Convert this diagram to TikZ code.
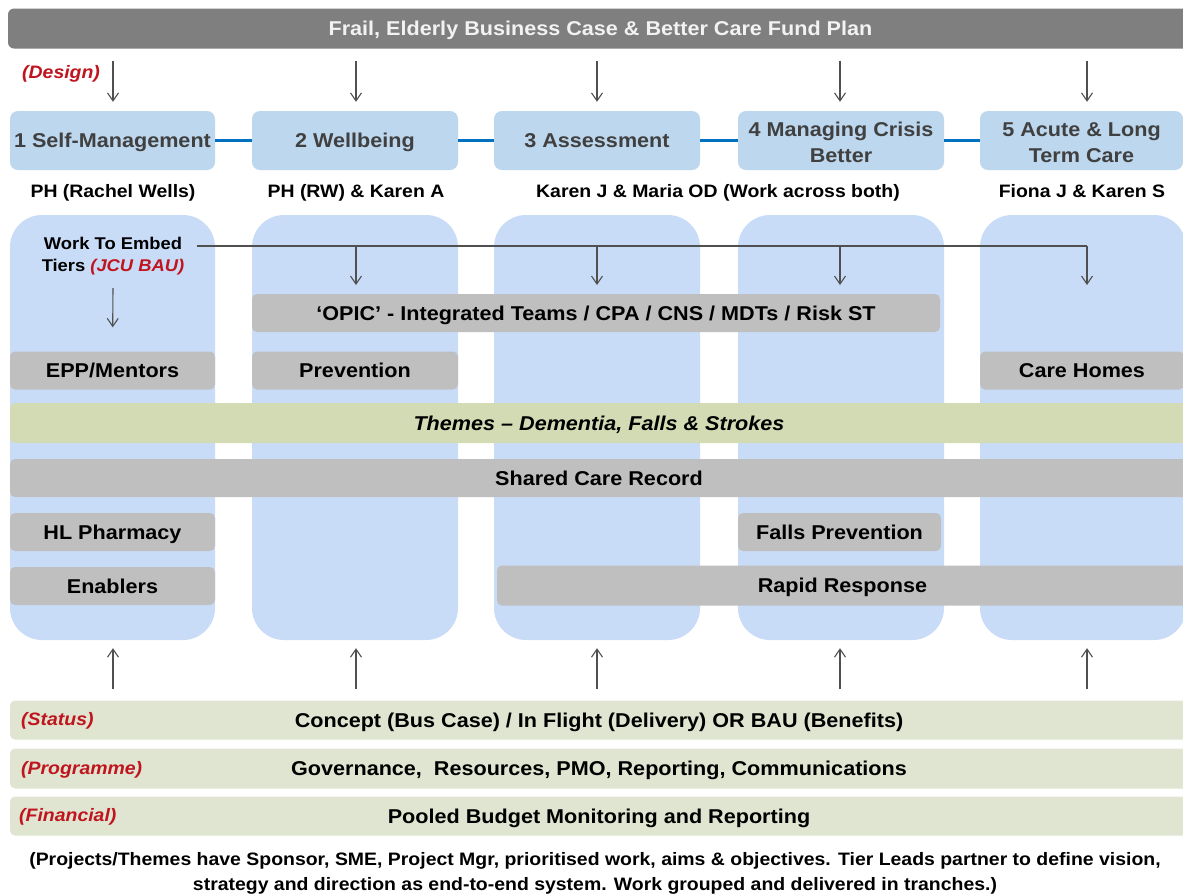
\documentclass[tikz,border=0pt]{standalone}
\usepackage{fontspec}
\setmainfont{Liberation Sans}[FakeStretch=1.08]
\usetikzlibrary{arrows.meta}
\definecolor{hdrgray}{HTML}{7F7F7F}
\definecolor{tierblue}{HTML}{BDD7EE}
\definecolor{colblue}{HTML}{C9DCF7}
\definecolor{boxgray}{HTML}{BFBFBF}
\definecolor{themegreen}{HTML}{D3DBB4}
\definecolor{barGreen}{HTML}{DFE5D0}
\definecolor{linkblue}{HTML}{0070C0}
\definecolor{arrgray}{HTML}{505050}
\definecolor{labred}{HTML}{C0141E}
\definecolor{tiertext}{HTML}{404040}
\begin{document}
\begin{tikzpicture}[x=1pt,y=-1pt,
  cenA/.style={text height=19pt, text depth=5pt},
  cenB/.style={text height=17pt, text depth=4.5pt},
  hdr/.style={cenA, fill=hdrgray, rounded corners=6pt, text=white!95!black, font=\bfseries\fontsize{20}{22}\selectfont, inner sep=0pt},
  tier/.style={cenA, fill=tierblue, rounded corners=8pt, text=tiertext, font=\bfseries\fontsize{20}{26}\selectfont, inner sep=0pt, minimum height=59pt},
  tiertwo/.style={text=tiertext, font=\bfseries\fontsize{20}{26}\selectfont, align=center, inner sep=0pt},
  col/.style={fill=colblue, rounded corners=32pt, inner sep=0pt, minimum height=425pt},
  gbox/.style={cenA, fill=boxgray, rounded corners=5pt, font=\bfseries\fontsize{20}{22}\selectfont, inner sep=0pt, minimum height=38pt},
  theme/.style={cenA, fill=themegreen, rounded corners=5pt, font=\bfseries\itshape\fontsize{20}{22}\selectfont, inner sep=0pt, minimum height=40pt},
  bar/.style={cenA, fill=barGreen, rounded corners=5pt, font=\bfseries\fontsize{20}{22}\selectfont, inner sep=0pt, minimum height=39pt},
  who/.style={cenB, font=\bfseries\fontsize{18}{20}\selectfont, inner sep=0pt},
  redlab/.style={cenB, text=labred, font=\bfseries\itshape\fontsize{18}{20}\selectfont, anchor=west, inner sep=0pt},
  arr/.style={draw=arrgray, line width=1.1pt, -{Straight Barb[length=8pt,width=11pt]}},
  plain/.style={draw=arrgray, line width=1.1pt},
  link/.style={draw=linkblue, line width=3pt}
]
\clip (0,0) rectangle (1183,895);
\useasboundingbox (0,0) rectangle (1183,895);
\fill[white] (0,0) rectangle (1183,895);

% x positions of the five tiers' arrows
\coordinate (x1) at (113,0);
\coordinate (x2) at (356,0);
\coordinate (x3) at (597,0);
\coordinate (x4) at (840,0);
\coordinate (x5) at (1087,0);

% header
\node[hdr, minimum width=1185pt, minimum height=40pt] (hdr) at (600.5,28.5) {Frail, Elderly Business Case \& Better Care Fund Plan};
\node[redlab] (design) at (22,72) {(Design)};

% tiers
\node[tier, minimum width=205pt] (t1) at (112.5,140.5) {1 Self-Management};
\node[tier, minimum width=206pt] (t2) at (355,140.5) {2 Wellbeing};
\node[tier, minimum width=206pt] (t3) at (597,140.5) {3 Assessment};
\node[tier, minimum width=206pt] (t4) at (841,140.5) {};
\node[tier, minimum width=203pt] (t5) at (1081.5,140.5) {};
\node[tiertwo] (t4txt) at ([yshift=-2pt]t4.center) {4 Managing Crisis\\Better};
\node[tiertwo] (t5txt) at ([yshift=-2pt]t5.center) {5 Acute \& Long\\Term Care};
\draw[link] (t1.east) -- (t2.west);
\draw[link] (t2.east) -- (t3.west);
\draw[link] (t3.east) -- (t4.west);
\draw[link] (t4.east) -- (t5.west);

\foreach \i in {1,...,5}{
  \draw[arr, shorten <=12pt, shorten >=9pt] (hdr.south -| x\i) -- (t\i.north -| x\i);
}

% leads
\node[who] (w1) at (113,191) {PH (Rachel Wells)};
\node[who] (w2) at (356,191) {PH (RW) \& Karen A};
\node[who] (w3) at (718,191) {Karen J \& Maria OD (Work across both)};
\node[who] (w5) at (1082,191) {Fiona J \& Karen S};

% columns
\node[col, minimum width=205pt] (c1) at (112.5,427.5) {};
\node[col, minimum width=206pt] (c2) at (355,427.5) {};
\node[col, minimum width=206pt] (c3) at (597,427.5) {};
\node[col, minimum width=206pt] (c4) at (841,427.5) {};
\node[col, minimum width=206pt] (c5) at (1083,427.5) {};

% work to embed
\node[font=\bfseries\fontsize{17}{22}\selectfont, align=center, inner sep=0pt] (embed) at (113,256) {Work To Embed\\Tiers \textcolor{labred}{\itshape(JCU BAU)}};
\coordinate (ws) at (197,246);
\coordinate (we) at (1087,246);
\coordinate (dy) at (0,285);
\coordinate (es) at (113,288);
\draw[plain] (ws) -- (we);
\draw[arr] (ws -| x2) -- (x2 |- dy);
\draw[arr] (ws -| x3) -- (x3 |- dy);
\draw[arr] (ws -| x4) -- (x4 |- dy);
\draw[arr] (we) -- (x5 |- dy);

% grey boxes
\node[gbox, minimum width=688pt] (opic) at (596,313) {‘OPIC’ - Integrated Teams / CPA / CNS / MDTs / Risk ST};
\node[gbox, minimum width=205pt] (epp) at (112.5,370.5) {EPP/Mentors};
\node[gbox, minimum width=206pt] (prev) at (355,370.5) {Prevention};
\node[gbox, minimum width=204pt] (care) at (1082,370.5) {Care Homes};
\draw[arr, shorten >=24pt] (es) -- (epp.north);

\node[theme, minimum width=1178pt] (themes) at (599,423) {Themes – Dementia, Falls \& Strokes};
\node[gbox, minimum width=1178pt] (scr) at (599,478) {Shared Care Record};

\node[gbox, minimum width=205pt] (hl) at (112.5,532) {HL Pharmacy};
\node[gbox, minimum width=203pt] (falls) at (839.5,532) {Falls Prevention};
\node[gbox, minimum width=205pt] (en) at (112.5,586) {Enablers};
\node[gbox, minimum width=691pt, minimum height=40pt] (rapid) at (842.5,585.5) {Rapid Response};

% bottom bars
\node[bar, minimum width=1178pt] (st) at (599,720) {Concept (Bus Case) / In Flight (Delivery) OR BAU (Benefits)};
\node[bar, minimum width=1178pt, minimum height=40pt] (pg) at (599,768.5) {Governance,\ \ Resources, PMO, Reporting, Communications};
\node[bar, minimum width=1178pt] (fn) at (599,816) {Pooled Budget Monitoring and Reporting};
\node[redlab] (lst) at (21,719.5) {(Status)};
\node[redlab] (lpg) at (21,768.5) {(Programme)};
\node[redlab] (lfn) at (19,815.5) {(Financial)};

\foreach \i in {1,...,5}{
  \draw[arr, shorten <=11pt, shorten >=8pt] (st.north -| x\i) -- (c\i.south -| x\i);
}

\node[font=\bfseries\fontsize{18}{25}\selectfont, align=center, inner sep=0pt] (note) at (595,873) {(Projects/Themes have Sponsor, SME, Project Mgr, prioritised work, aims \& objectives. Tier Leads partner to define vision,\\strategy and direction as end-to-end system. Work grouped and delivered in tranches.)};
\end{tikzpicture}
\end{document}
